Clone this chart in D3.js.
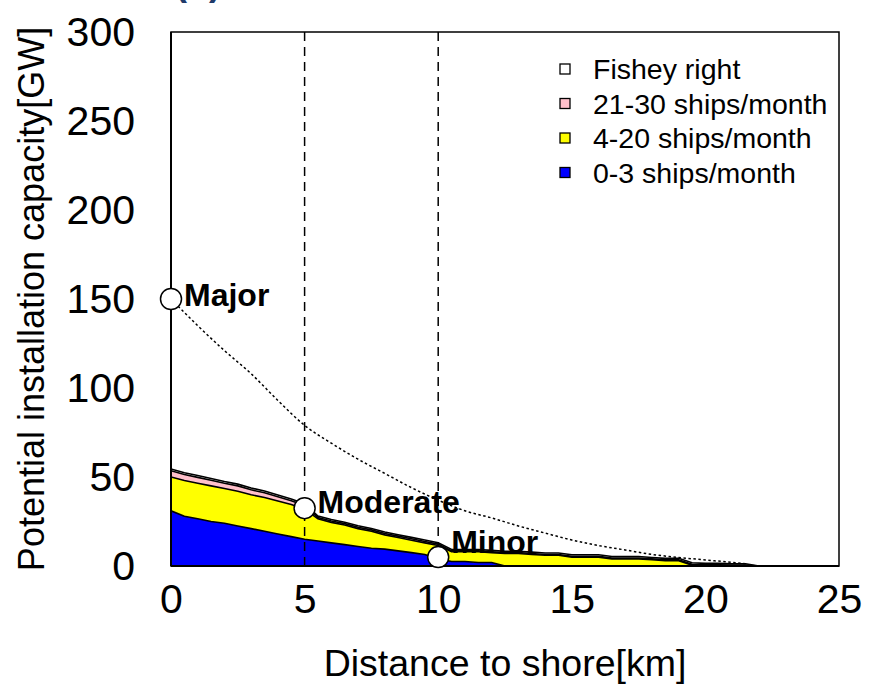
<!DOCTYPE html>
<html><head><meta charset="utf-8">
<script src="https://cdn.jsdelivr.net/npm/d3@7"></script>
<style>
html,body{margin:0;padding:0;background:#fff;}
svg{display:block;font-family:"Liberation Sans",Arial,sans-serif;}
</style></head>
<body><svg id="chart" width="871" height="685"></svg>
<script>
// ---- data ----
const distance = [0,0.5,1,1.5,2,2.5,3,3.5,4,4.5,5,5.5,6,6.5,7,7.5,8,8.5,9,9.5,10,10.5,11,11.5,12,12.5,13,13.5,14,14.5,15,15.5,16,16.5,17,17.5,18,18.5,19,19.5,20,20.5,21,21.5,22];
const ships0_3   = [31,28,26.5,25,24,22.5,21,19.5,18,16.5,15,14,13,12,11,10,9.5,8.5,7.5,6.5,4,2.5,2.5,2,2,0,0,0,0,0,0,0,0,0,0,0,0,0,0,0,0,0,0,0,0];
const ships4_20  = [19,20,20,20,19.5,19.5,19,19,18.5,18,17,12.5,11.5,11,10,9.5,8,7.5,7,6.5,7.5,5.5,5.5,6,5.5,7,7,6.5,6,6,5,5,5,4,4,4,3.5,3,3,0.5,0.3,0.3,0.2,0.2,0];
const ships21_30 = [3.5,3.4,3.3,3.2,3,3,2.8,2.6,2.4,2.2,2,0.8,0.8,0.8,0.8,0.8,0.8,0.8,0.8,0.8,0.8,0.5,0.5,0.5,0.5,0.5,0.5,0.5,0.5,0.5,0.5,0.5,0.5,0.5,0.5,0.5,0.5,0.5,0.5,0.5,0.4,0.4,0.3,0.3,0];
const fishery    = [1,1,1,1,1,1,1,1,1,1,1,0.8,0.8,0.8,0.8,0.8,0.8,0.8,0.8,0.8,0.8,0.8,0.8,0.8,0.8,0.8,0.8,0.8,0.8,0.8,0.8,0.8,0.8,0.8,0.8,0.8,0.8,0.8,0.8,0.8,0.8,0.8,0.8,0.8,0];
const seriesNames = ["0-3 ships/month","4-20 ships/month","21-30 ships/month","Fishey right"];
const curveDistance = [0,1,2,3,4,5,6,7,8,9,10,11,12,13,14,15,16,17,18,19,20,21,21.5];
const curveValue    = [150,135,121,108,93,79,69,60,52,44,37,31,27,22.5,18.5,14.6,11.5,9,6.5,4.8,3.4,2,1.2];
const markerDistance = [0,5,10];
const markerValue    = [150,32.5,5];
const markerLabel    = ["Major","Moderate","Minor"];
const guideDistance  = [5,10];
const xTicks = [0,5,10,15,20,25];
const yTicks = [0,50,100,150,200,250,300];
const xTitle = "Distance to shore[km]";
const yTitle = "Potential installation capacity[GW]";
const panelTitle = "(b)";

// ---- layout ----
const L=171, R=839, T=32, B=566;
const svg = d3.select("#chart");
const x = d3.scaleLinear().domain([0,25]).range([L,R]);
const y = d3.scaleLinear().domain([0,300]).range([B,T]);
const colors = ["#0000ff","#ffff00","#ffc0cb","#ffffff"];

const rows = distance.map((d,i)=>({d, s0:ships0_3[i], s1:ships4_20[i], s2:ships21_30[i], s3:fishery[i]}));
const stack = d3.stack().keys(["s0","s1","s2","s3"]);
const layers = stack(rows);
const area = d3.area().x(p=>x(p.data.d)).y0(p=>y(p[0])).y1(p=>y(p[1]));
const topLine = d3.line().x(p=>x(p.data.d)).y(p=>y(p[1]));

svg.append("clipPath").attr("id","clip").append("rect")
  .attr("x",L).attr("y",T).attr("width",R-L).attr("height",B-T);
const g = svg.append("g").attr("clip-path","url(#clip)");

layers.forEach((ly,i)=>{
  g.append("path").datum(ly).attr("d",area).attr("fill",colors[i]).attr("stroke","none");
});
layers.forEach((ly,i)=>{
  g.append("path").datum(ly.filter((p,j)=> j===0 || (p[1]-p[0])>0 || (ly[j-1][1]-ly[j-1][0])>0))
   .attr("d",topLine).attr("fill","none").attr("stroke","#000").attr("stroke-width",1.6);
});

// guide dashed lines
guideDistance.forEach(d=>{
  svg.append("line").attr("x1",x(d)).attr("x2",x(d)).attr("y1",T).attr("y2",B)
    .attr("stroke","#000").attr("stroke-width",1.5).attr("stroke-dasharray","9,6");
});

// dotted curve
svg.append("path").datum(curveDistance.map((d,i)=>[d,curveValue[i]]))
  .attr("d", d3.line().x(p=>x(p[0])).y(p=>y(p[1])).curve(d3.curveMonotoneX))
  .attr("fill","none").attr("stroke","#000").attr("stroke-width",1.5).attr("stroke-dasharray","2.5,2.5");

// frame
svg.append("rect").attr("x",L).attr("y",T).attr("width",R-L).attr("height",B-T)
  .attr("fill","none").attr("stroke","#000").attr("stroke-width",1.5);
svg.append("line").attr("x1",L).attr("x2",L).attr("y1",T).attr("y2",B).attr("stroke","#000").attr("stroke-width",2);
svg.append("line").attr("x1",L).attr("x2",R).attr("y1",B).attr("y2",B).attr("stroke","#000").attr("stroke-width",2);

// markers
const labelDy = [7, 5, -4];
markerDistance.forEach((d,i)=>{
  svg.append("circle").attr("cx",x(d)).attr("cy",y(markerValue[i])).attr("r",10.5)
    .attr("fill","#fff").attr("stroke","#000").attr("stroke-width",1.5);
  svg.append("text").attr("x",x(d)+13).attr("y",y(markerValue[i])+labelDy[i])
    .attr("font-size",32).attr("font-weight","bold").attr("fill","#000").text(markerLabel[i]);
});

// axes (labels only)
const xAxis = d3.axisBottom(x).tickValues(xTicks).tickSize(0).tickPadding(18);
const gx = svg.append("g").attr("transform",`translate(0,${B})`).call(xAxis);
gx.select(".domain").remove();
gx.selectAll("text").attr("font-size",41).attr("font-family","'Liberation Sans',Arial,sans-serif").attr("fill","#000");

const yAxis = d3.axisLeft(y).tickValues(yTicks).tickSize(0).tickPadding(36);
const gy = svg.append("g").attr("transform",`translate(${L},0)`).call(yAxis);
gy.select(".domain").remove();
gy.selectAll("text").attr("font-size",41).attr("font-family","'Liberation Sans',Arial,sans-serif").attr("fill","#000");

// titles
svg.append("text").attr("x",(L+R)/2).attr("y",676).attr("text-anchor","middle")
  .attr("font-size",37.5).attr("fill","#000").text(xTitle);
svg.append("text").attr("transform",`translate(44,${(T+B)/2}) rotate(-90)`).attr("text-anchor","middle")
  .attr("font-size",36).attr("fill","#000").text(yTitle);
svg.append("text").attr("x",175).attr("y",-5).attr("font-size",36).attr("font-weight","bold")
  .attr("fill","#1f3a6a").text(panelTitle);

// legend
const legendRows = [3,2,1,0];
legendRows.forEach((k,j)=>{
  const cy = 69 + j*34.5;
  svg.append("rect").attr("x",560).attr("y",cy-5).attr("width",10).attr("height",10)
    .attr("fill",colors[k]).attr("stroke","#000").attr("stroke-width",1.3);
  svg.append("text").attr("x",593).attr("y",cy+10).attr("font-size",28.5).attr("fill","#000").text(seriesNames[k]);
});
</script></body></html>
